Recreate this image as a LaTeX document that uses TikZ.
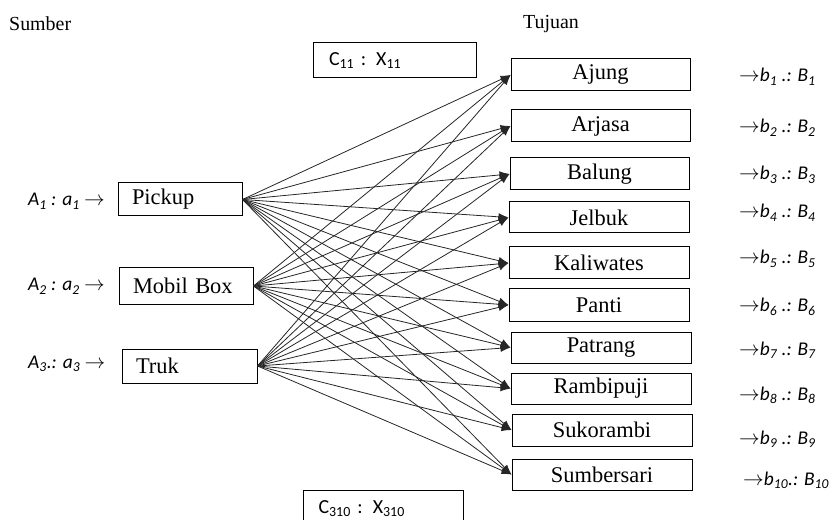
\documentclass[tikz,border=0pt]{standalone}
\usepackage{fontspec}
\setmainfont{Liberation Serif}
\newfontfamily\calfont{Carlito}
\usetikzlibrary{arrows.meta}
\begin{document}
\begin{tikzpicture}[x=1bp,y=-1bp,
  box/.style={draw, line width=1bp, rectangle, inner sep=0pt},
  dest/.style={box, minimum width=180bp, minimum height=32bp, font=\fontsize{22.5}{26}\selectfont},
  src/.style={box, align=left, inner xsep=14bp, inner ysep=0pt, font=\fontsize{22.5}{26}\selectfont},
  cbox/.style={box, align=left, inner xsep=16bp, font=\calfont\fontsize{20}{24}\selectfont},
  lab/.style={inner sep=0pt, anchor=base west, font=\calfont\itshape\fontsize{19.5}{23}\selectfont},
  head/.style={inner sep=0pt, anchor=base west, font=\fontsize{20}{24}\selectfont},
  flow/.style={line width=0.8bp, draw=black!85, -{Latex[length=10bp,width=7.5bp]}}
]
\useasboundingbox (0,0) rectangle (833,520);

\node[head] (sumber) at (9,31) {Sumber};
\node[head] (tujuan) at (523,29) {Tujuan};

% source boxes
\node[src, minimum height=33bp, text width=96bp] (pickup) at (180,199.5) {Pickup};
\node[src, minimum height=36bp, text width=106bp] (mobil) at (186,286) {Mobil Box};
\node[src, minimum height=34bp, text width=107bp] (truk) at (189.5,366) {Truk};

% left labels
\node[lab] (a1) at (28,206) {A\textsubscript{1} : a\textsubscript{1} $\rightarrow$};
\node[lab] (a2) at (28,291) {A\textsubscript{2} : a\textsubscript{2} $\rightarrow$};
\node[lab] (a3) at (28,368) {A\textsubscript{3}.: a\textsubscript{3} $\rightarrow$};

% cost boxes
\node[cbox, minimum height=35bp, text width=131bp] (c11) at (394.5,60.5) {C\textsubscript{11} : X\textsubscript{11}};
\node[cbox, minimum height=35bp, text width=130bp, anchor=north west, inner xsep=15bp, text depth=8bp, text height=19bp] (c310) at (303,490) {C\textsubscript{310} : X\textsubscript{310}};

% destination boxes
\node[dest, minimum width=179bp] (ajung) at (600.5,75) {Ajung};
\node[dest, minimum width=179bp] (arjasa) at (600.5,126) {Arjasa};
\node[dest, minimum width=179bp] (balung) at (599.5,174) {Balung};
\node[dest, minimum height=31bp] (jelbuk) at (599,217.5) {Jelbuk};
\node[dest] (kaliwates) at (599,263) {Kaliwates};
\node[dest] (panti) at (599,305) {Panti};
\node[dest, minimum height=31bp] (patrang) at (601,347.5) {Patrang};
\node[dest, minimum height=31bp] (rambipuji) at (601,388.5) {Rambipuji};
\node[dest] (sukorambi) at (602,430) {Sukorambi};
\node[dest, minimum height=31bp] (sumbersari) at (602,474.5) {Sumbersari};

% right labels
\node[lab] (b1) at (739,82) {$\rightarrow$b\textsubscript{1} .: B\textsubscript{1}};
\node[lab] (b2) at (739,133) {$\rightarrow$b\textsubscript{2} .: B\textsubscript{2}};
\node[lab] (b3) at (739,180) {$\rightarrow$b\textsubscript{3} .: B\textsubscript{3}};
\node[lab] (b4) at (739,218) {$\rightarrow$b\textsubscript{4} .: B\textsubscript{4}};
\node[lab] (b5) at (739,264) {$\rightarrow$b\textsubscript{5} .: B\textsubscript{5}};
\node[lab] (b6) at (739,312) {$\rightarrow$b\textsubscript{6} .: B\textsubscript{6}};
\node[lab] (b7) at (739,355) {$\rightarrow$b\textsubscript{7} .: B\textsubscript{7}};
\node[lab] (b8) at (739,400) {$\rightarrow$b\textsubscript{8} .: B\textsubscript{8}};
\node[lab] (b9) at (739,444) {$\rightarrow$b\textsubscript{9} .: B\textsubscript{9}};
\node[lab] (b10) at (743,485) {$\rightarrow$b\textsubscript{10}.: B\textsubscript{10}};

% flows
\foreach \s in {pickup,mobil,truk}
  \foreach \d in {ajung,arjasa,balung,jelbuk,kaliwates,panti,patrang,rambipuji,sukorambi,sumbersari}
    \draw[flow] (\s.east) -- (\d.west);
\end{tikzpicture}
\end{document}
